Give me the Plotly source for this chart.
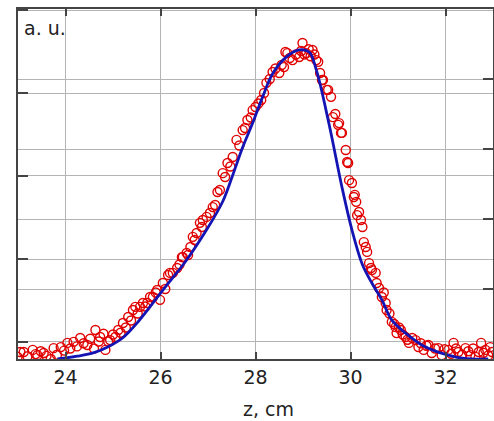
import plotly.graph_objects as go

# Fitted curve (blue line)
fit_z = [23.83, 24.25, 24.6, 24.9, 25.2, 25.55, 26.05, 26.55, 26.97, 27.31, 27.52, 27.73, 27.94,
         28.15, 28.36, 28.65, 28.92, 29.13, 29.28, 29.55, 29.82, 30.03, 30.25, 30.45, 30.66,
         30.87, 31.16, 31.58, 32.2, 32.55, 32.9]
fit_y = [0.0, 0.008, 0.018, 0.035, 0.06, 0.11, 0.197, 0.283, 0.369, 0.45, 0.525, 0.605, 0.674,
         0.749, 0.815, 0.863, 0.883, 0.877, 0.826, 0.67, 0.491, 0.369, 0.27, 0.217, 0.169,
         0.111, 0.074, 0.034, 0.006, 0.0, 0.0]

# Measured points (red circles)
meas_z = [22.99, 23.05, 23.12, 23.2, 23.31, 23.37, 23.41, 23.48, 23.54, 23.6, 23.69, 23.75,
          23.82, 23.9, 23.97, 24.04, 24.1, 24.17, 24.24, 24.31, 24.38, 24.46, 24.52, 24.6,
          24.63, 24.7, 24.73, 24.8, 24.84, 24.9, 24.94, 25.0, 25.05, 25.11, 25.16, 25.21,
          25.27, 25.32, 25.38, 25.42, 25.47, 25.52, 25.57, 25.63, 25.68, 25.72, 25.78, 25.84,
          25.9, 25.93, 25.99, 26.05, 26.1, 26.16, 26.2, 26.26, 26.35, 26.4, 26.45, 26.47,
          26.55, 26.58, 26.63, 26.68, 26.72, 26.76, 26.83, 26.87, 26.89, 26.97, 27.04, 27.1,
          27.15, 27.2, 27.25, 27.31, 27.36, 27.41, 27.47, 27.52, 27.6, 27.66, 27.73, 27.78,
          27.83, 27.9, 27.94, 28.0, 28.06, 28.12, 28.18, 28.23, 28.3, 28.36, 28.42, 28.5,
          28.55, 28.6, 28.63, 28.67, 28.72, 28.78, 28.85, 28.92, 28.96, 28.99, 29.03, 29.07,
          29.12, 29.16, 29.2, 29.24, 29.28, 29.32, 29.36, 29.4, 29.42, 29.5, 29.53, 29.59,
          29.63, 29.68, 29.74, 29.76, 29.8, 29.82, 29.9, 29.93, 29.95, 29.97, 30.03, 30.07,
          30.09, 30.12, 30.14, 30.18, 30.22, 30.25, 30.28, 30.32, 30.35, 30.39, 30.43, 30.45,
          30.53, 30.55, 30.6, 30.66, 30.7, 30.74, 30.76, 30.82, 30.87, 30.92, 30.95, 30.97,
          31.02, 31.06, 31.1, 31.16, 31.2, 31.23, 31.3, 31.37, 31.43, 31.48, 31.54, 31.6,
          31.64, 31.71, 31.78, 31.85, 31.92, 31.98, 32.06, 32.12, 32.17, 32.22, 32.27, 32.35,
          32.42, 32.48, 32.52, 32.58, 32.63, 32.7, 32.75, 32.8, 32.84, 32.9, 32.94, 32.98]
meas_y = [0.006, 0.02, 0.02, 0.008, 0.026, 0.014, 0.011, 0.022, 0.017, 0.009, 0.0, 0.031,
          0.012, 0.034, 0.024, 0.046, 0.03, 0.049, 0.036, 0.06, 0.045, 0.04, 0.058, 0.03,
          0.083, 0.05, 0.063, 0.072, 0.026, 0.05, 0.054, 0.07, 0.063, 0.083, 0.075, 0.103,
          0.09, 0.12, 0.11, 0.14, 0.149, 0.13, 0.149, 0.16, 0.15, 0.16, 0.177, 0.177,
          0.19, 0.197, 0.169, 0.217, 0.2, 0.24, 0.246, 0.246, 0.26, 0.27, 0.291, 0.291,
          0.303, 0.297, 0.32, 0.349, 0.34, 0.36, 0.389, 0.377, 0.397, 0.406, 0.417, 0.434,
          0.44, 0.477, 0.483, 0.531, 0.52, 0.56, 0.55, 0.577, 0.626, 0.61, 0.654, 0.66,
          0.683, 0.69, 0.711, 0.72, 0.73, 0.74, 0.76, 0.789, 0.8, 0.82, 0.83, 0.817,
          0.84, 0.834, 0.877, 0.874, 0.86, 0.854, 0.87, 0.863, 0.88, 0.903, 0.87, 0.874,
          0.885, 0.865, 0.883, 0.87, 0.854, 0.849, 0.817, 0.797, 0.797, 0.769, 0.769, 0.749,
          0.691, 0.7, 0.669, 0.674, 0.646, 0.646, 0.597, 0.563, 0.56, 0.511, 0.503, 0.463,
          0.469, 0.449, 0.411, 0.42, 0.397, 0.377, 0.334, 0.32, 0.306, 0.274, 0.26, 0.254,
          0.246, 0.217, 0.203, 0.177, 0.19, 0.16, 0.14, 0.13, 0.106, 0.1, 0.091, 0.074,
          0.09, 0.083, 0.07, 0.063, 0.055, 0.046, 0.06, 0.054, 0.034, 0.045, 0.026, 0.038,
          0.04, 0.017, 0.03, 0.031, 0.011, 0.028, 0.026, 0.015, 0.046, 0.03, 0.02, 0.012,
          0.031, 0.022, 0.011, 0.03, 0.006, 0.02, 0.046, 0.018, 0.026, 0.01, 0.034, 0.02]

x_ticks = [24, 26, 28, 30, 32]
left_tick_pos = [0.0486, 0.2857, 0.5229, 0.7600, 0.9971]

FONT = "DejaVu Sans"
GRID = "#b4b4b4"
AXC = "#444444"

fig = go.Figure()
fig.add_trace(go.Scatter(
    x=meas_z, y=meas_y, mode="markers",
    marker=dict(symbol="circle-open", size=9, color="#e00000", line=dict(width=1.4, color="#e00000")),
    yaxis="y", showlegend=False))
fig.add_trace(go.Scatter(
    x=fit_z, y=fit_y, mode="lines", line=dict(color="#1414b4", width=2.8, shape="spline"),
    yaxis="y2", showlegend=False))

fig.update_layout(
    width=494, height=421,
    margin=dict(l=18, r=1, t=9, b=62),
    paper_bgcolor="white", plot_bgcolor="white",
    font=dict(family=FONT, size=19, color="#222222"),
    xaxis=dict(range=[23.0, 33.0], tickvals=x_ticks, ticktext=[str(v) for v in x_ticks],
               showgrid=True, gridcolor=GRID, gridwidth=1,
               ticks="inside", ticklen=7, tickcolor=AXC, tickwidth=1.5,
               showline=True, linecolor=AXC, linewidth=1.5, mirror="ticks",
               zeroline=False, tickfont=dict(size=19)),
    yaxis=dict(range=[0, 1], tickvals=left_tick_pos, showticklabels=False,
               showgrid=True, gridcolor=GRID, gridwidth=1,
               ticks="inside", ticklen=10, tickcolor=AXC, tickwidth=1.5,
               showline=True, linecolor=AXC, linewidth=1.5, zeroline=False),
    yaxis2=dict(range=[0, 1], tick0=0, dtick=0.2, showticklabels=False, overlaying="y",
                side="right", showgrid=True, gridcolor=GRID, gridwidth=1,
                ticks="inside", ticklen=10, tickcolor=AXC, tickwidth=1.5,
                showline=True, linecolor=AXC, linewidth=1.5, zeroline=False),
    annotations=[
        dict(text="a. u.", xref="paper", yref="paper", x=0.008, y=0.946,
             xanchor="left", yanchor="middle", showarrow=False, font=dict(size=19)),
        dict(text="z, cm", xref="paper", yref="paper", x=0.528, y=-0.143,
             xanchor="center", yanchor="middle", showarrow=False, font=dict(size=19)),
    ],
)

fig.write_html("out.html", config={"displayModeBar": False},
               post_script="document.body.style.margin='0';document.body.style.overflow='hidden';")
